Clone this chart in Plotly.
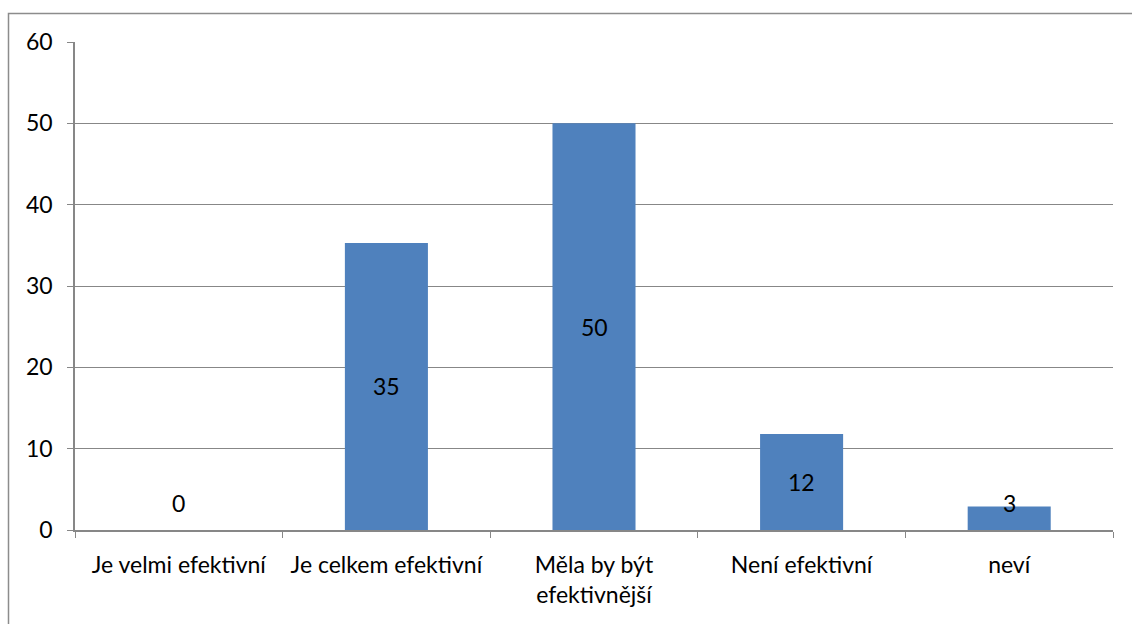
import plotly.graph_objects as go

categories = ["Je velmi efektivní", "Je celkem efektivní", "Měla by být<br>efektivnější", "Není efektivní", "neví"]
values = [0, 35.3, 50, 11.8, 2.9]
labels = ["0", "35", "50", "12", "3"]
y_ticks = [0, 10, 20, 30, 40, 50, 60]

FONT = "Lato, 'Open Sans', sans-serif"
FS = 23
GRID = "#878787"

fig = go.Figure()
fig.add_trace(go.Bar(x=categories, y=values, marker=dict(color="#4F81BD", line=dict(width=0)),
                     width=0.4, hoverinfo="x+y"))

for c, v, t in zip(categories, values, labels):
    fig.add_annotation(x=c, y=max(v / 2, 3.3), text=t, showarrow=False,
                       font=dict(family=FONT, size=FS, color="black"))

fig.add_shape(type="rect", xref="paper", yref="paper",
              x0=(8.5 - 75) / 1038, x1=1.1, y0=-0.3, y1=(530 - 13.5) / 488,
              line=dict(color="#8c8c8c", width=1.5), layer="below")

fig.update_layout(
    width=1132, height=624,
    margin=dict(l=75, r=19, t=42, b=94),
    plot_bgcolor="white", paper_bgcolor="white",
    showlegend=False,
    font=dict(family=FONT, size=FS, color="black"),
    bargap=0.6,
    xaxis=dict(type="category", tickson="boundaries", ticks="outside", ticklen=6,
               tickcolor=GRID, showline=True, linecolor=GRID, linewidth=1.5,
               showgrid=False, tickfont=dict(size=FS), ticklabelstandoff=14),
    yaxis=dict(range=[0, 60], tickvals=y_ticks, ticks="outside", ticklen=6, tickcolor=GRID,
               showline=True, linecolor=GRID, linewidth=1.5, showgrid=True,
               gridcolor=GRID, gridwidth=1, zeroline=False, ticklabelstandoff=10,
               tickfont=dict(size=FS)),
)

fig.write_html("out.html")
